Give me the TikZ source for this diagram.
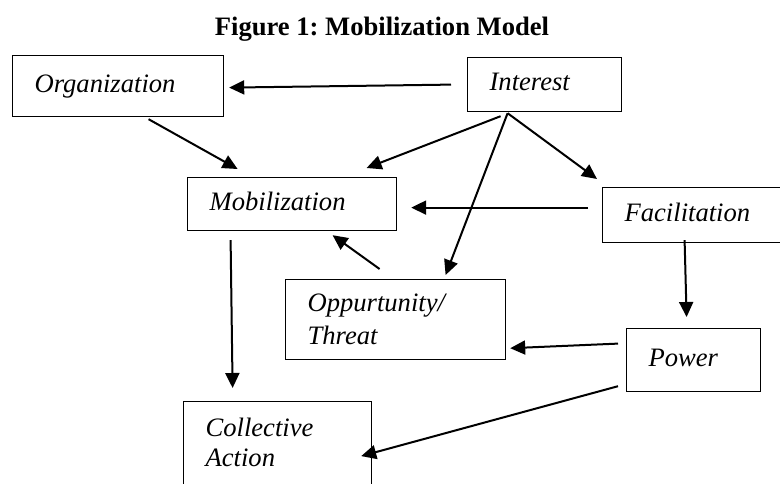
\documentclass[tikz,border=0pt]{standalone}
\usepackage{fontspec}
\setmainfont{Liberation Serif}
\usetikzlibrary{arrows.meta}

\tikzset{
  box/.style={draw, line width=1.2pt, anchor=north west, inner xsep=22pt, inner ysep=0pt,
    align=left, text depth=5pt, font=\fontsize{26.6}{31}\selectfont\itshape},
  arr/.style={line width=2pt, -{Triangle[length=15pt,width=14pt]}}
}

\begin{document}
\begin{tikzpicture}[x=1pt,y=-1pt]
        \useasboundingbox (0,0) rectangle (780,483);
        \clip (0,0) rectangle (780,483);

        \node[anchor=base, font=\fontsize{26.6}{31}\selectfont\bfseries] (title) at (382,35) {Figure 1:\ Mobilization Model};

        \node[box, text width=167pt, minimum height=61pt] (org) at (12,55) {Organization};
        \node[box, text width=110pt, minimum height=54pt] (int) at (467,57) {Interest};
        \node[box, text width=165pt, minimum height=53pt] (mob) at (187,177) {Mobilization};
        \node[box, text width=146pt, minimum height=55pt] (fac) at (602,187) {Facilitation};
        \node[box, text width=176pt, minimum height=80pt, text depth=33pt] (opp) at (285,279) {Oppurtunity/\\[2pt]Threat};
        \node[box, text width=90pt, minimum height=63pt] (pow) at (626,328) {Power};
        \node[box, text width=144pt, minimum height=92pt, text depth=40pt] (col) at (183,401) {Collective\\[-1pt]Action};

        \draw[arr] ([xshift=-16pt]int.west) -- ([xshift=5pt,yshift=-1.5pt]org.east);
        \draw[arr] ([xshift=30.5pt,yshift=-2pt]org.south) -- ([xshift=-54.5pt,yshift=8pt]mob.north);
        \draw[arr] ([xshift=-44pt,yshift=-4pt]int.south) -- ([xshift=74.5pt,yshift=9pt]mob.north);
        \draw[arr] ([xshift=-37pt,yshift=-1pt]int.south) -- ([xshift=50pt,yshift=4pt]opp.north);
        \draw[arr] ([xshift=-37pt,yshift=-1pt]int.south) -- ([xshift=-5pt,yshift=8pt]fac.north west);
        \draw[arr] ([xshift=-14pt,yshift=7.5pt]fac.west) -- ([xshift=14pt,yshift=-3.5pt]mob.east);
        \draw[arr] ([xshift=-16pt,yshift=10pt]opp.north) -- ([xshift=40.5pt,yshift=-4pt]mob.south);
        \draw[arr] ([xshift=-61.5pt,yshift=-9pt]mob.south) -- ([xshift=-45pt,yshift=13pt]col.north);
        \draw[arr] ([xshift=-13pt,yshift=3pt]fac.south) -- ([xshift=-7pt,yshift=11pt]pow.north);
        \draw[arr] ([xshift=-8pt,yshift=16.5pt]pow.west) -- ([xshift=4pt,yshift=12pt]opp.south east);
        \draw[arr] ([xshift=-8pt,yshift=6pt]pow.south west) -- ([xshift=-11pt,yshift=-8.5pt]col.east);

\end{tikzpicture}
\end{document}
